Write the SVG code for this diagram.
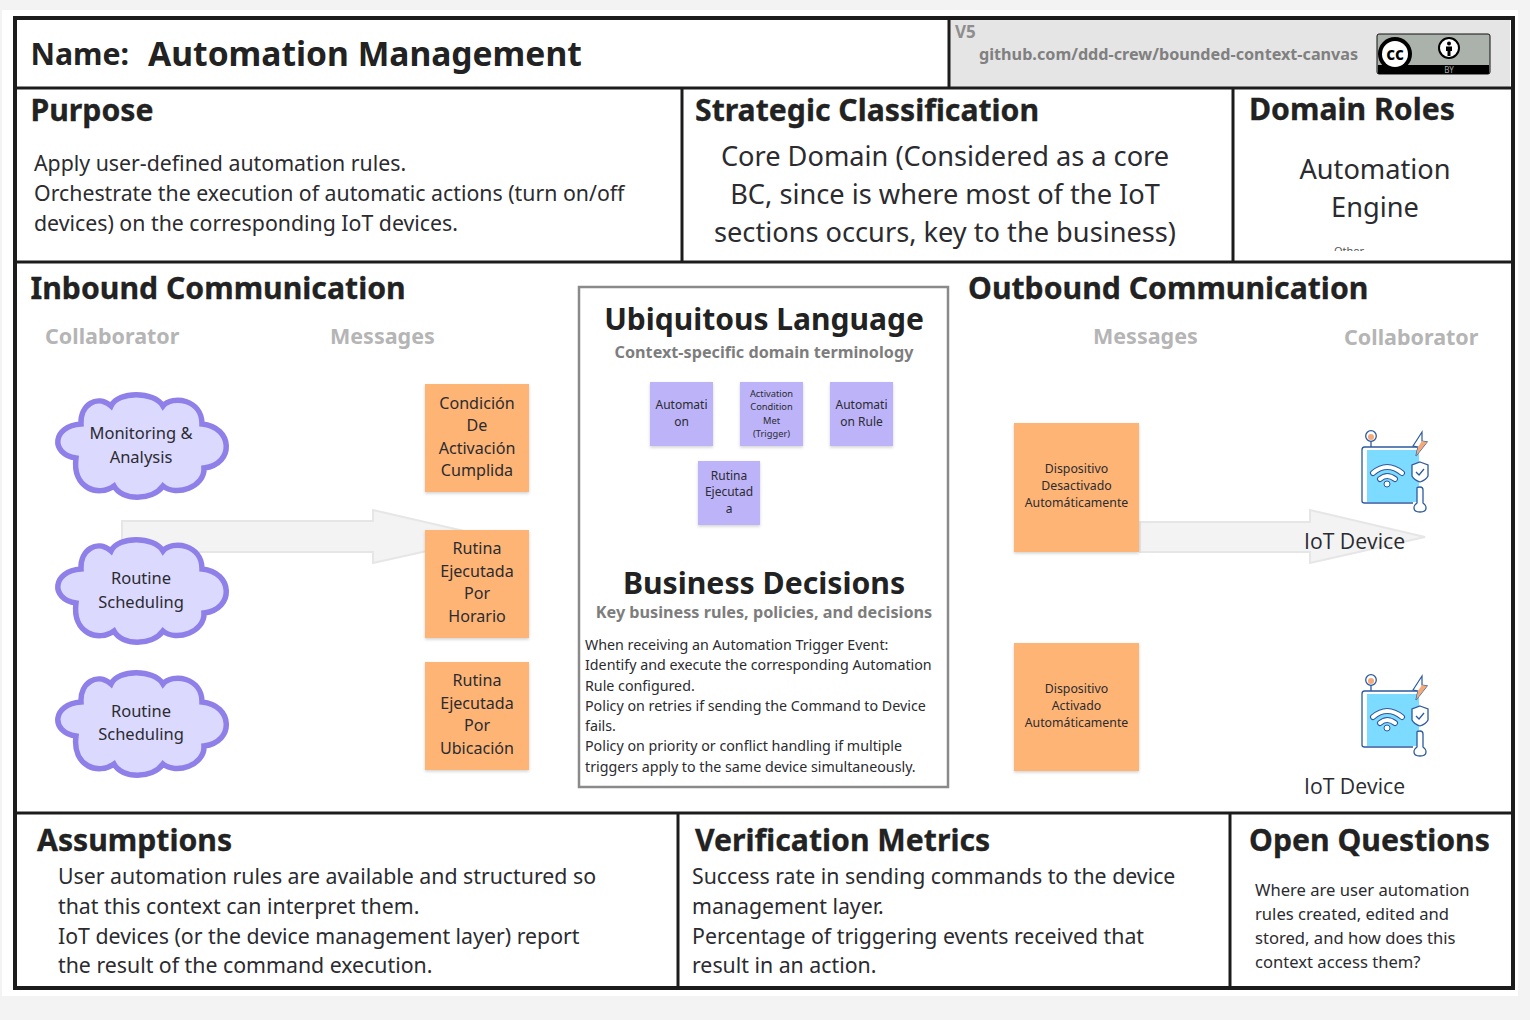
<svg xmlns="http://www.w3.org/2000/svg" width="1530" height="1020" viewBox="0 0 1530 1020">
<style>
text{font-family:"Noto Sans","Open Sans","DejaVu Sans",sans-serif;fill:#2b2b30}
.h{font-size:30.2px;font-weight:700;fill:#222;stroke:#222;stroke-width:.3}
.sub{font-size:21.500px;font-weight:700;fill:#b5b5b5}
.ctx{font-size:16.200px;font-weight:700;fill:#7d7d7d}
.b{font-size:21.300px}
.m{font-size:16.100px;text-anchor:middle}
.c{font-size:16.500px;text-anchor:middle}
.o{font-size:12.300px;text-anchor:middle}
.t{font-size:12px;text-anchor:middle}
.bd{font-size:14.250px}
.dev{font-size:21.200px;font-family:"Open Sans","Noto Sans",sans-serif}
.sticky{fill:#feb474;filter:url(#s)}
.lil{fill:#bcb3f8;filter:url(#s)}
.frame{stroke:#1c1c1c;stroke-width:3;fill:none}
.arrow{fill:#f3f3f3;stroke:#e6e6e6;stroke-width:2}
</style>
<defs>
<filter id="s" x="-10%" y="-10%" width="120%" height="120%"><feDropShadow dx="0" dy="1.5" stdDeviation="1.5" flood-color="#000" flood-opacity=".18"/></filter>
<clipPath id="clipOther"><rect x="1325" y="245" width="50" height="6"/></clipPath>
<path id="cloud" d="M-30-39C-23-54 13-54 22-39C31-50 61-46 61-21C92-18 94 19 63 23C64 42 35 52 22 41C11 56-19 56-27 41C-42 52-69 44-65 13C-91 9-89-19-60-21C-61-40-44-51-30-39Z" fill="#dcd9ff" stroke="#8f7fe8" stroke-width="5.500"/>
<g id="iot">
<rect x="1367" y="450" width="52" height="52" fill="#7ddbff"/>
<path d="M1417 447H1364.5Q1362 447 1362 450V501Q1362 503 1364.5 503H1413" fill="none" stroke="#2c5a9e" stroke-width="1.3"/>
<path d="M1371 441V447" stroke="#2c5a9e" stroke-width="1.3"/>
<circle cx="1371" cy="436" r="5.3" fill="#fff" stroke="#2c5a9e" stroke-width="1.3"/>
<circle cx="1371" cy="437" r="3" fill="#f6a978"/>
<path d="M1422 432L1413 446L1418 447L1416 456L1427 442L1422 441Z" fill="#fff" stroke="#2c5a9e" stroke-width="1.2"/>
<path d="M1422 441L1427 442L1416 456L1418 447Z" fill="#f6a978"/>
<path d="M1420 462L1428 465V476Q1426 480 1420 482Q1414 480 1412 476V465Z" fill="#fff" stroke="#2c5a9e" stroke-width="1.3"/>
<path d="M1416 472L1419 475L1424 469" fill="none" stroke="#2c5a9e" stroke-width="1.3"/>
<path d="M1417 488Q1417 487 1420 487Q1423 487 1423 490V503Q1426 505 1426 508Q1426 512 1420 512Q1414 512 1414 508Q1414 505 1417 503Z" fill="#fff" stroke="#2c5a9e" stroke-width="1.3"/>
<g fill="none" stroke="#2c5a9e" stroke-width="6" stroke-linecap="round"><path d="M1373 473Q1387 461 1402 473"/><path d="M1380 479Q1387 473 1395 479"/></g>
<g fill="none" stroke="#fff" stroke-width="4" stroke-linecap="round"><path d="M1373 473Q1387 461 1402 473"/><path d="M1380 479Q1387 473 1395 479"/></g>
<circle cx="1387" cy="484" r="3" fill="#fff" stroke="#2c5a9e" stroke-width="1"/>
</g>
</defs>
<rect width="1530" height="1020" fill="#f3f3f3"/>
<rect x="2" y="10" width="1516" height="986" fill="#fff"/>
<g id="connectors">
<path class="arrow" d="M122 521H373V510L490 537L373 563V552H122Z"/>
<path class="arrow" d="M1140 522H1310V510L1425 537L1310 563V552H1140Z"/>
</g>
<g id="frame">
<rect x="949" y="20" width="561" height="67" fill="#e5e5e5"/>
<rect class="frame" x="15" y="18" width="1498" height="970" style="stroke-width:4"/>
<path class="frame" d="M15 88H1513M15 262H1513M15 813H1513M949 18V88M682 88V262M1233 88V262M678 813V988M1230 813V988"/>
</g>
<g id="header">
<text x="30.500" y="65" style="font-size:30.2px;font-weight:700;fill:#222">Name:</text>
<text x="148" y="66" style="font-size:33.600px;font-weight:700;fill:#222">Automation Management</text>
<text x="955" y="38" style="font-size:17px;font-weight:700;fill:#8e8e8e">V5</text>
<text x="979" y="60" style="font-size:16.200px;font-weight:700;fill:#808080">github.com/ddd-crew/bounded-context-canvas</text>
<g id="cc">
<rect x="1377" y="34" width="113" height="40" rx="2" fill="#aab2ab" stroke="#111" stroke-width="1"/>
<path d="M1378 65H1489V73Q1489 74 1488 74H1379Q1378 74 1378 73Z" fill="#000"/>
<circle cx="1395" cy="54" r="17" fill="#000"/>
<circle cx="1395" cy="54" r="13" fill="#fff"/>
<text x="1395" y="60" style="font-size:17px;font-weight:700;text-anchor:middle;fill:#000">cc</text>
<circle cx="1449" cy="48" r="10" fill="#fff" stroke="#000" stroke-width="2"/>
<circle cx="1449" cy="43.5" r="2" fill="#000"/>
<path d="M1446 46.500H1452V51H1450.500V56H1447.500V51H1446Z" fill="#000"/>
<text x="1449" y="72.500" style="font-size:8px;text-anchor:middle;fill:#aaa">BY</text>
</g>
</g>
<g id="purpose">
<text class="h" x="30.500" y="121">Purpose</text>
<text class="b" x="34" y="171">Apply user-defined automation rules.</text>
<text class="b" x="34" y="201">Orchestrate the execution of automatic actions (turn on/off</text>
<text class="b" x="34" y="231">devices) on the corresponding IoT devices.</text>
</g>
<g id="strategic">
<text class="h" x="695" y="121">Strategic Classification</text>
<g style="font-size:27.200px;text-anchor:middle">
<text x="945" y="166">Core Domain (Considered as a core</text>
<text x="945" y="204">BC, since is where most of the IoT</text>
<text x="945" y="242">sections occurs, key to the business)</text>
</g>
</g>
<g id="roles">
<text class="h" x="1249" y="119.500">Domain Roles</text>
<g style="font-size:27.200px;text-anchor:middle">
<text x="1375" y="179">Automation</text>
<text x="1375" y="217">Engine</text>
</g>
<text x="1349" y="255" clip-path="url(#clipOther)" style="font-size:11px;text-anchor:middle;fill:#555">Other</text>
</g>
<g id="inbound">
<text class="h" x="30.500" y="299">Inbound Communication</text>
<text class="sub" x="45" y="343.500">Collaborator</text>
<text class="sub" x="330" y="343.500">Messages</text>
</g>
<g id="cloud1"><use href="#cloud" x="141" y="445"/><text class="c" x="141" y="439">Monitoring &amp;</text><text class="c" x="141" y="463">Analysis</text></g>
<g id="cloud2"><use href="#cloud" x="141" y="590"/><text class="c" x="141" y="584">Routine</text><text class="c" x="141" y="608">Scheduling</text></g>
<g id="cloud3"><use href="#cloud" x="141" y="723"/><text class="c" x="141" y="717">Routine</text><text class="c" x="141" y="740">Scheduling</text></g>
<g id="msg1"><rect class="sticky" x="425" y="384" width="104" height="108"/><text class="m" x="477" y="408.500">Condición</text><text class="m" x="477" y="431">De</text><text class="m" x="477" y="453.500">Activación</text><text class="m" x="477" y="476">Cumplida</text></g>
<g id="msg2"><rect class="sticky" x="425" y="530" width="104" height="108"/><text class="m" x="477" y="554">Rutina</text><text class="m" x="477" y="577">Ejecutada</text><text class="m" x="477" y="599">Por</text><text class="m" x="477" y="622">Horario</text></g>
<g id="msg3"><rect class="sticky" x="425" y="662" width="104" height="108"/><text class="m" x="477" y="686">Rutina</text><text class="m" x="477" y="709">Ejecutada</text><text class="m" x="477" y="731">Por</text><text class="m" x="477" y="754">Ubicación</text></g>
<g id="language">
<rect x="579" y="287" width="369" height="500" fill="#fff" stroke="#8a8a8a" stroke-width="2.500"/>
<text x="764" y="330" style="font-size:30px;font-weight:700;text-anchor:middle;fill:#222">Ubiquitous Language</text>
<text class="ctx" x="764" y="358" text-anchor="middle">Context-specific domain terminology</text>
<g id="term1"><rect class="lil" x="650" y="382" width="63" height="64"/><text class="t" x="681.500" y="409">Automati</text><text class="t" x="681.500" y="426">on</text></g>
<g id="term2"><rect class="lil" x="740" y="382" width="63" height="64"/><g style="font-size:9.300px;text-anchor:middle"><text x="771.500" y="397">Activation</text><text x="771.500" y="410">Condition</text><text x="771.500" y="424">Met</text><text x="771.500" y="437">(Trigger)</text></g></g>
<g id="term3"><rect class="lil" x="830" y="382" width="63" height="64"/><text class="t" x="861.500" y="409">Automati</text><text class="t" x="861.500" y="426">on Rule</text></g>
<g id="term4"><rect class="lil" x="698" y="461" width="62" height="64"/><text class="t" x="729" y="480">Rutina</text><text class="t" x="729" y="496">Ejecutad</text><text class="t" x="729" y="513">a</text></g>
<text x="764" y="594" style="font-size:30.200px;font-weight:700;text-anchor:middle;fill:#222">Business Decisions</text>
<text class="ctx" x="764" y="618" text-anchor="middle">Key business rules, policies, and decisions</text>
<text class="bd" x="585" y="650">When receiving an Automation Trigger Event:</text>
<text class="bd" x="585" y="670">Identify and execute the corresponding Automation</text>
<text class="bd" x="585" y="691">Rule configured.</text>
<text class="bd" x="585" y="711">Policy on retries if sending the Command to Device</text>
<text class="bd" x="585" y="731">fails.</text>
<text class="bd" x="585" y="751">Policy on priority or conflict handling if multiple</text>
<text class="bd" x="585" y="772">triggers apply to the same device simultaneously.</text>
</g>
<g id="outbound">
<text class="h" x="968" y="299">Outbound Communication</text>
<text class="sub" x="1093" y="343.500">Messages</text>
<text class="sub" x="1344" y="344.500">Collaborator</text>
</g>
<g id="out1"><rect class="sticky" x="1014" y="423" width="125" height="129"/><text class="o" x="1076.500" y="473">Dispositivo</text><text class="o" x="1076.500" y="490">Desactivado</text><text class="o" x="1076.500" y="507">Automáticamente</text></g>
<g id="out2"><rect class="sticky" x="1014" y="643" width="125" height="128"/><text class="o" x="1076.500" y="693">Dispositivo</text><text class="o" x="1076.500" y="710">Activado</text><text class="o" x="1076.500" y="727">Automáticamente</text></g>
<g id="device1"><use href="#iot"/><text class="dev" x="1304" y="549">IoT Device</text></g>
<g id="device2"><use href="#iot" y="244"/><text class="dev" x="1304" y="794">IoT Device</text></g>
<g id="assumptions">
<text class="h" x="37" y="850.500">Assumptions</text>
<text class="b" x="58" y="884">User automation rules are available and structured so</text>
<text class="b" x="58" y="914">that this context can interpret them.</text>
<text class="b" x="58" y="944">IoT devices (or the device management layer) report</text>
<text class="b" x="58" y="973">the result of the command execution.</text>
</g>
<g id="metrics">
<text class="h" x="695" y="850.500">Verification Metrics</text>
<text class="b" x="692" y="884">Success rate in sending commands to the device</text>
<text class="b" x="692" y="914">management layer.</text>
<text class="b" x="692" y="944">Percentage of triggering events received that</text>
<text class="b" x="692" y="973">result in an action.</text>
</g>
<g id="questions">
<text class="h" x="1249" y="850.500">Open Questions</text>
<g style="font-size:16.600px">
<text x="1255" y="896">Where are user automation</text>
<text x="1255" y="920">rules created, edited and</text>
<text x="1255" y="944">stored, and how does this</text>
<text x="1255" y="968">context access them?</text>
</g>
</g>
</svg>
